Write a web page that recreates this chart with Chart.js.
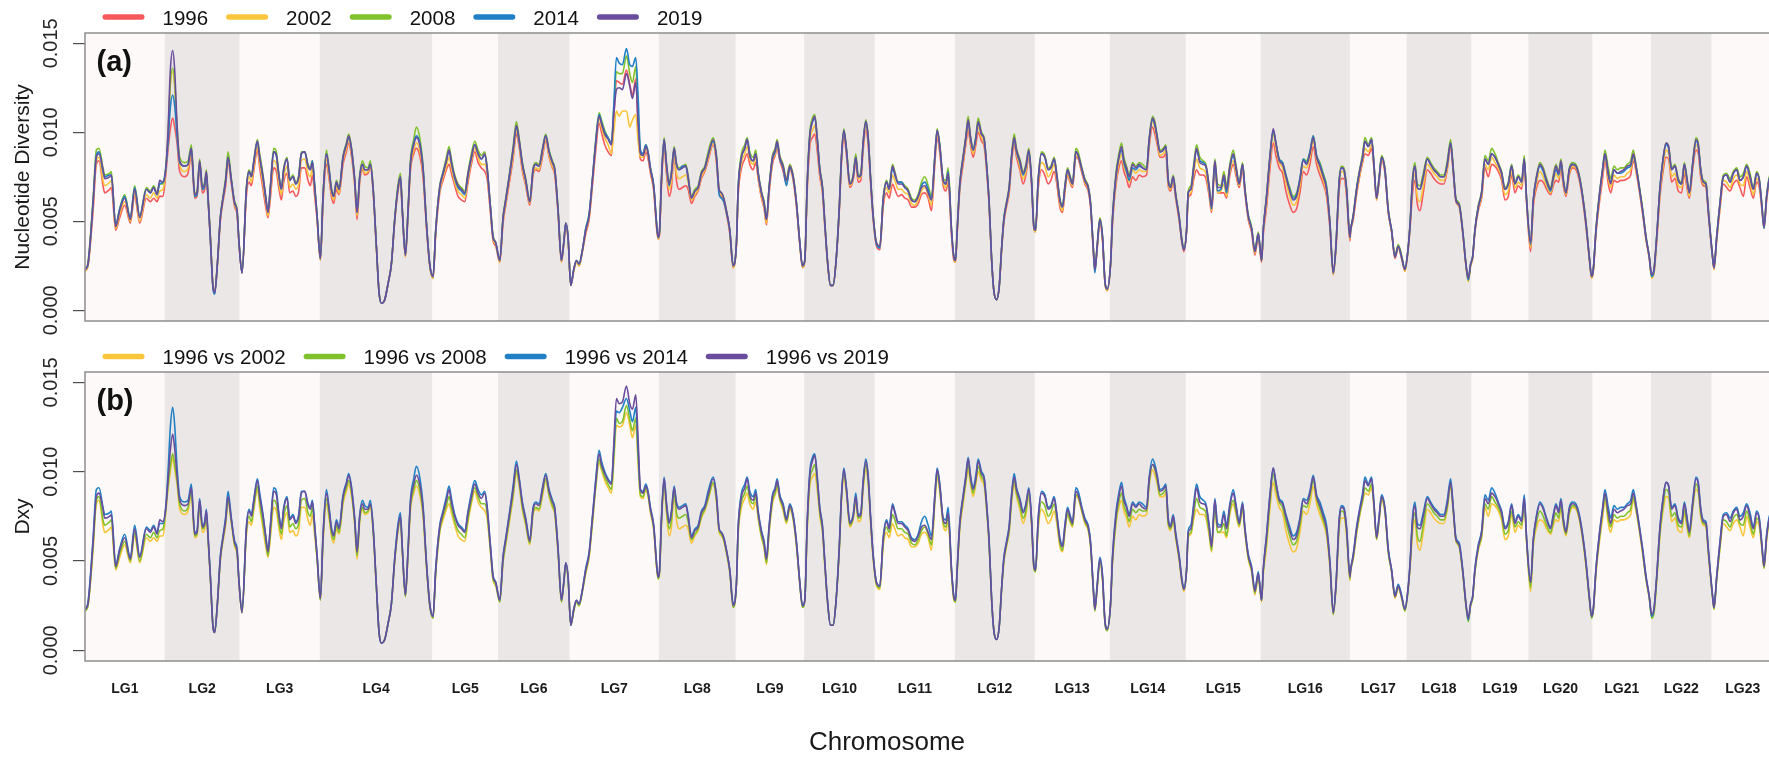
<!DOCTYPE html>
<html>
<head>
<meta charset="utf-8">
<title>Nucleotide diversity and Dxy along the genome</title>
<script src="https://cdn.jsdelivr.net/npm/chart.js@4.4.1/dist/chart.umd.min.js"></script>
<style>
  html, body { margin: 0; padding: 0; background: #ffffff; overflow: hidden; }
  #wrap { position: relative; width: 1776px; height: 757px; }
  #wrap canvas { position: absolute; left: 0; }
  #chart-pi { top: 0; }
  #chart-dxy { top: 340px; }
</style>
</head>
<body>
<div id="wrap">
  <canvas id="chart-pi" width="1776" height="340"></canvas>
  <canvas id="chart-dxy" width="1776" height="417"></canvas>
</div>
<script>
// ============================================================================
// DATA  (values in units of 1e-4, positions in Mb from chromosome start)
// ============================================================================

const chromNames = ['LG1', 'LG2', 'LG3', 'LG4', 'LG5', 'LG6', 'LG7', 'LG8', 'LG9', 'LG10', 'LG11', 'LG12',
  'LG13', 'LG14', 'LG15', 'LG16', 'LG17', 'LG18', 'LG19', 'LG20', 'LG21', 'LG22', 'LG23'];

const chromLengths = [23.9, 22.5, 24.0, 33.8, 19.7, 21.5, 26.7, 23.1, 20.5, 21.2, 24.0, 24.0,
  22.5, 22.8, 22.4, 26.8, 17.0, 19.5, 17.0, 19.3, 17.5, 18.2, 18.7];

const yTicks = [0, 50, 100, 150];
const yTickLabels = ['0.000', '0.005', '0.010', '0.015'];

// window midpoints, one row per chromosome
const windowPos = [
  [0.1, 0.9, 2.4, 3.4, 4.2, 5.4, 5.9, 7.4, 7.9, 9.2, 10.4, 11.9, 13.6, 14.9, 16.4, 18.4, 19.6, 20.6, 21.6, 22.4, 23.4],
  [0.3, 1.0, 1.7, 2.4, 3.0, 3.7, 4.5, 6.0, 7.0, 8.0, 9.0, 9.7, 10.5, 11.3, 12.0, 12.5, 13.0, 13.7, 14.5, 15.0, 15.8, 16.7, 17.5, 18.3, 19.0, 20.0, 21.0, 21.7, 22.3],
  [0.7, 2.0, 2.8, 3.5, 4.2, 5.3, 6.0, 7.0, 7.8, 8.5, 9.2, 10.2, 11.0, 11.8, 12.5, 13.2, 14.2, 15.0, 16.0, 16.8, 17.7, 18.5, 19.5, 20.5, 21.2, 21.8, 22.5, 23.2],
  [0.2, 1.0, 2.0, 2.8, 3.5, 4.2, 5.0, 5.8, 7.0, 8.0, 8.7, 9.5, 10.5, 11.2, 12.0, 12.8, 13.5, 14.5, 15.2, 16.0, 17.0, 17.8, 18.5, 19.5, 20.5, 21.5, 22.5, 23.5, 24.2, 24.8, 25.7, 26.5, 27.2, 28.2, 29.0, 30.0, 31.0, 32.0, 33.0],
  [0.2, 1.0, 2.2, 3.2, 4.2, 5.0, 5.7, 6.7, 7.7, 8.7, 9.7, 10.7, 11.7, 12.7, 13.7, 14.7, 15.7, 16.4, 17.4, 18.2, 19.0],
  [0.5, 1.5, 2.3, 3.5, 4.5, 5.5, 6.3, 7.3, 8.3, 9.5, 10.5, 11.3, 12.3, 13.3, 14.3, 15.3, 16.3, 17.0, 18.0, 19.0, 19.7, 20.3, 21.0],
  [0.3, 1.2, 2.0, 2.8, 3.8, 4.8, 5.8, 6.8, 7.8, 8.8, 9.5, 10.5, 11.5, 12.5, 13.2, 14.0, 14.8, 15.8, 17.0, 18.0, 18.8, 19.8, 20.5, 21.2, 22.0, 22.8, 23.5, 24.2, 25.2, 26.0, 26.5],
  [0.2, 0.8, 1.6, 2.3, 3.1, 3.8, 4.6, 5.3, 6.1, 7.1, 8.1, 8.8, 9.8, 10.8, 11.8, 12.8, 13.8, 14.8, 16.3, 17.3, 18.1, 18.8, 19.5, 20.3, 21.3, 22.3],
  [0.2, 0.7, 1.7, 2.7, 3.4, 4.2, 5.2, 6.0, 6.7, 7.7, 8.5, 9.2, 10.0, 11.0, 11.8, 12.4, 13.2, 14.2, 15.2, 16.2, 17.2, 18.2, 19.2, 20.0],
  [0.2, 0.9, 1.7, 2.5, 3.2, 3.9, 4.7, 5.5, 6.2, 7.0, 7.9, 8.7, 9.5, 10.5, 11.2, 11.9, 12.7, 13.7, 14.7, 15.5, 16.2, 17.0, 17.7, 18.5, 19.2, 19.9, 20.7],
  [0.5, 1.5, 2.5, 3.5, 4.3, 5.3, 6.0, 7.0, 8.0, 9.0, 10.0, 11.0, 12.0, 13.0, 14.0, 15.0, 16.0, 17.0, 18.0, 18.7, 19.5, 20.5, 21.3, 22.0, 23.0, 23.7],
  [0.2, 0.7, 1.5, 2.5, 3.3, 4.0, 4.7, 5.5, 6.3, 7.0, 8.0, 8.8, 9.5, 10.3, 11.0, 11.7, 12.5, 13.3, 14.0, 14.7, 15.5, 16.3, 17.0, 17.8, 18.5, 19.5, 20.5, 21.3, 22.2, 23.0, 23.7],
  [0.2, 1.0, 2.0, 3.0, 4.0, 4.8, 5.8, 6.5, 7.5, 8.3, 9.0, 9.8, 10.5, 11.3, 12.3, 13.0, 14.0, 15.0, 16.0, 16.7, 17.5, 18.0, 18.7, 19.5, 20.3, 21.0, 21.7],
  [0.2, 0.8, 1.8, 2.7, 3.5, 4.2, 5.0, 5.8, 6.8, 7.8, 8.8, 9.8, 11.0, 11.8, 12.8, 13.5, 14.2, 15.0, 16.0, 16.8, 17.5, 18.2, 19.0, 19.8, 20.8, 21.6, 22.2],
  [0.2, 0.7, 1.5, 2.4, 3.2, 4.2, 5.2, 6.0, 7.0, 7.7, 8.7, 9.5, 10.5, 11.4, 12.2, 13.2, 14.2, 15.0, 16.0, 17.0, 17.7, 18.7, 19.7, 20.7, 21.7, 22.2],
  [0.3, 0.8, 1.8, 2.8, 3.8, 4.6, 5.6, 6.6, 7.6, 8.6, 9.8, 10.8, 11.8, 12.8, 13.8, 14.8, 15.8, 16.8, 17.8, 18.8, 19.8, 20.8, 21.8, 22.6, 23.6, 24.3, 25.0, 25.8, 26.8],
  [0.2, 1.0, 2.0, 3.0, 3.8, 4.5, 5.5, 6.5, 7.2, 8.0, 8.8, 9.5, 10.5, 11.5, 12.5, 13.5, 14.5, 15.5, 16.5],
  [0.3, 1.0, 1.8, 2.5, 3.2, 4.0, 5.0, 6.2, 7.2, 8.2, 9.2, 10.2, 11.2, 12.2, 13.2, 14.0, 14.8, 15.8, 16.8, 17.8, 18.5, 19.2],
  [0.3, 1.0, 2.0, 3.0, 4.0, 5.0, 6.0, 7.0, 8.0, 9.0, 10.0, 11.0, 12.0, 13.0, 14.0, 15.0, 15.8, 16.5],
  [0.7, 1.5, 2.5, 3.5, 4.5, 5.5, 6.7, 7.5, 8.3, 9.1, 9.8, 10.5, 11.3, 12.3, 13.3, 14.3, 15.3, 16.3, 17.3, 18.3, 19.0],
  [0.2, 1.0, 2.0, 3.0, 3.7, 4.7, 5.4, 6.4, 7.4, 8.4, 9.4, 10.4, 11.4, 12.2, 13.0, 14.0, 15.0, 16.0, 17.0],
  [0.2, 0.9, 1.7, 2.7, 3.7, 4.5, 5.3, 6.2, 7.2, 8.2, 9.2, 10.0, 10.7, 11.5, 12.5, 13.5, 14.2, 14.9, 15.7, 16.5, 17.2],
  [0.3, 0.7, 1.5, 2.5, 3.5, 4.5, 5.5, 6.5, 7.5, 8.5, 9.5, 10.5, 11.5, 12.5, 13.5, 14.3, 15.0, 15.7, 16.5, 17.5, 18.5]
];

// nucleotide diversity per sampling year
const pi1996 = [
  [22, 25, 55, 82, 84, 70, 66, 68, 69, 45, 52, 59, 49, 64, 49, 63, 61, 63, 61, 64, 64],
  [76, 90, 102, 108, 103, 94, 78, 75, 77, 87, 63, 64, 80, 66, 68, 75, 62, 40, 13, 10, 25, 50, 61, 70, 83, 71, 58, 54, 37],
  [21, 64, 72, 70, 78, 90, 80, 68, 58, 52, 63, 80, 78, 68, 62, 72, 77, 66, 67, 64, 67, 80, 80, 73, 70, 76, 64, 51],
  [28, 60, 82, 74, 64, 60, 68, 65, 82, 89, 94, 87, 70, 51, 72, 79, 76, 77, 80, 67, 35, 10, 4, 6, 15, 26, 50, 67, 72, 54, 30, 54, 78, 88, 91, 87, 75, 47, 25],
  [18, 43, 66, 73, 79, 82, 77, 70, 64, 62, 61, 72, 82, 89, 83, 80, 78, 74, 55, 39, 36],
  [27, 49, 59, 73, 85, 99, 92, 78, 70, 59, 76, 79, 78, 86, 95, 86, 80, 76, 54, 27, 37, 47, 40],
  [14, 22, 27, 25, 33, 43, 51, 70, 90, 105, 100, 93, 89, 87, 108, 129, 128, 127, 135, 127, 121, 130, 103, 85, 84, 89, 85, 77, 67, 47, 40],
  [42, 70, 92, 77, 64, 69, 88, 73, 68, 69, 70, 68, 60, 64, 67, 74, 78, 84, 93, 83, 66, 64, 61, 54, 43, 24],
  [37, 64, 80, 85, 88, 82, 79, 83, 74, 63, 57, 48, 66, 82, 87, 91, 84, 78, 71, 79, 73, 58, 37, 24],
  [28, 66, 92, 97, 99, 90, 75, 66, 47, 27, 14, 14, 26, 54, 83, 98, 87, 69, 73, 83, 72, 73, 90, 101, 93, 72, 51],
  [36, 34, 58, 66, 63, 71, 68, 64, 65, 63, 62, 58, 58, 60, 65, 66, 63, 56, 82, 97, 88, 70, 67, 72, 42, 28],
  [27, 43, 68, 82, 93, 101, 93, 86, 93, 100, 95, 92, 79, 58, 29, 11, 6, 13, 33, 49, 58, 66, 82, 93, 86, 79, 71, 76, 86, 71, 46],
  [44, 68, 79, 76, 71, 73, 78, 72, 58, 55, 66, 76, 72, 69, 86, 85, 78, 71, 67, 58, 34, 22, 35, 49, 39, 16, 11],
  [25, 49, 70, 80, 84, 78, 74, 69, 75, 73, 76, 75, 76, 92, 103, 99, 93, 86, 86, 88, 70, 67, 72, 62, 50, 38, 33],
  [44, 63, 65, 74, 79, 76, 76, 74, 64, 55, 80, 66, 66, 66, 63, 76, 82, 76, 69, 79, 66, 51, 44, 31, 41, 34],
  [27, 42, 58, 79, 94, 87, 80, 77, 67, 60, 55, 57, 66, 78, 76, 82, 92, 82, 76, 71, 64, 46, 20, 34, 68, 74, 74, 64, 39],
  [44, 51, 65, 76, 83, 88, 87, 91, 80, 62, 73, 84, 77, 55, 44, 29, 35, 29, 22],
  [31, 45, 66, 73, 60, 56, 66, 79, 77, 74, 72, 71, 71, 79, 92, 77, 61, 58, 44, 25, 17, 25],
  [29, 44, 56, 63, 80, 75, 82, 81, 78, 73, 62, 64, 76, 66, 70, 68, 82, 60],
  [33, 58, 69, 73, 72, 68, 65, 70, 73, 72, 80, 70, 64, 76, 80, 79, 73, 62, 47, 29, 18],
  [22, 43, 60, 74, 84, 71, 66, 73, 72, 73, 73, 74, 76, 84, 78, 67, 54, 40, 29],
  [19, 21, 38, 64, 79, 86, 85, 72, 74, 67, 66, 77, 70, 63, 79, 90, 88, 75, 70, 69, 54],
  [29, 23, 39, 57, 71, 69, 67, 71, 73, 69, 64, 75, 69, 63, 72, 69, 58, 46, 62, 73, 74]
];

const pi2002 = [
  [22, 25, 58, 84, 86, 73, 70, 72, 73, 46, 54, 61, 50, 66, 50, 65, 63, 66, 63, 67, 68],
  [78, 97, 126, 134, 125, 100, 82, 78, 80, 89, 64, 65, 82, 68, 70, 76, 63, 41, 13, 10, 26, 51, 62, 72, 84, 72, 59, 55, 38],
  [21, 66, 75, 72, 80, 92, 83, 71, 61, 53, 66, 84, 82, 71, 65, 75, 81, 69, 71, 68, 71, 84, 85, 77, 75, 80, 67, 52],
  [28, 62, 85, 76, 66, 62, 70, 66, 84, 91, 96, 89, 71, 53, 73, 80, 77, 78, 81, 68, 35, 10, 4, 6, 15, 26, 50, 68, 73, 55, 30, 55, 80, 90, 94, 90, 77, 48, 25],
  [18, 44, 67, 75, 81, 86, 80, 72, 67, 65, 63, 74, 84, 91, 86, 82, 82, 77, 56, 40, 37],
  [27, 50, 60, 75, 87, 101, 94, 80, 71, 60, 77, 80, 79, 88, 96, 87, 81, 77, 55, 27, 37, 48, 40],
  [14, 22, 27, 25, 33, 44, 52, 72, 93, 108, 103, 97, 93, 88, 100, 112, 109, 112, 112, 103, 107, 110, 95, 86, 86, 91, 87, 78, 68, 48, 40],
  [43, 71, 94, 79, 68, 73, 89, 77, 74, 75, 76, 72, 62, 65, 68, 75, 79, 85, 94, 84, 67, 65, 62, 55, 44, 24],
  [37, 66, 83, 88, 92, 85, 82, 86, 75, 64, 58, 49, 67, 84, 88, 93, 85, 80, 72, 80, 74, 59, 37, 24],
  [28, 68, 95, 101, 104, 94, 77, 67, 48, 27, 14, 14, 26, 55, 85, 100, 89, 70, 74, 85, 74, 75, 92, 104, 95, 74, 52],
  [37, 35, 60, 69, 66, 76, 73, 68, 68, 66, 65, 60, 59, 62, 67, 69, 65, 59, 84, 99, 90, 72, 69, 75, 44, 29],
  [27, 44, 70, 84, 95, 104, 95, 88, 95, 103, 97, 94, 80, 59, 29, 11, 6, 13, 33, 50, 59, 67, 84, 95, 88, 81, 74, 78, 88, 72, 46],
  [44, 70, 83, 81, 75, 77, 82, 75, 60, 56, 67, 77, 73, 70, 87, 86, 79, 72, 68, 59, 35, 22, 35, 50, 40, 16, 11],
  [26, 50, 72, 83, 88, 81, 77, 72, 79, 77, 79, 78, 78, 94, 106, 102, 95, 87, 88, 90, 71, 68, 73, 63, 51, 39, 34],
  [45, 64, 66, 77, 85, 80, 79, 77, 66, 56, 82, 66, 67, 71, 64, 78, 84, 78, 70, 80, 67, 52, 45, 32, 42, 35],
  [28, 44, 61, 83, 99, 91, 83, 80, 72, 65, 59, 61, 70, 81, 80, 86, 95, 85, 79, 73, 66, 48, 20, 35, 71, 78, 77, 66, 40],
  [44, 52, 66, 77, 84, 91, 89, 93, 81, 62, 74, 85, 78, 55, 44, 30, 35, 30, 22],
  [31, 46, 70, 77, 64, 61, 70, 82, 80, 77, 75, 73, 73, 80, 93, 78, 62, 58, 44, 25, 16, 25],
  [29, 44, 57, 64, 82, 79, 86, 83, 80, 75, 65, 67, 78, 69, 72, 70, 83, 61],
  [35, 60, 72, 78, 75, 70, 66, 72, 77, 74, 82, 71, 65, 77, 81, 80, 74, 63, 48, 29, 18],
  [22, 44, 62, 77, 86, 74, 69, 76, 74, 75, 75, 77, 79, 86, 79, 68, 55, 40, 29],
  [18, 21, 39, 66, 82, 90, 88, 75, 77, 70, 69, 79, 72, 64, 80, 93, 90, 77, 71, 70, 55],
  [29, 23, 40, 58, 73, 72, 69, 74, 76, 71, 70, 78, 72, 65, 74, 71, 59, 46, 63, 74, 75]
];

const pi2008 = [
  [23, 27, 62, 90, 91, 80, 76, 77, 78, 48, 57, 65, 52, 70, 53, 69, 67, 70, 66, 71, 71],
  [80, 98, 128, 136, 128, 103, 86, 83, 84, 93, 66, 67, 85, 70, 72, 79, 65, 42, 13, 10, 26, 53, 64, 75, 89, 74, 61, 57, 38],
  [22, 69, 79, 76, 84, 96, 88, 76, 64, 56, 70, 91, 89, 76, 69, 80, 86, 74, 76, 72, 76, 89, 89, 82, 80, 84, 70, 54],
  [29, 65, 90, 80, 69, 65, 73, 69, 87, 94, 99, 92, 74, 56, 76, 84, 81, 80, 84, 70, 36, 10, 4, 6, 15, 26, 52, 71, 77, 57, 31, 57, 84, 96, 103, 97, 81, 50, 26],
  [19, 46, 70, 78, 86, 92, 85, 76, 71, 69, 67, 78, 88, 95, 90, 87, 89, 81, 59, 42, 38],
  [28, 53, 63, 78, 92, 106, 97, 83, 74, 62, 80, 83, 82, 91, 99, 90, 84, 80, 57, 28, 38, 49, 41],
  [14, 23, 28, 26, 34, 46, 54, 74, 96, 111, 107, 101, 97, 94, 113, 134, 133, 133, 143, 133, 128, 137, 112, 89, 88, 93, 89, 80, 70, 50, 41],
  [44, 74, 97, 83, 72, 78, 92, 83, 80, 81, 82, 76, 64, 68, 70, 78, 81, 89, 97, 87, 68, 66, 63, 56, 45, 26],
  [38, 69, 88, 93, 97, 89, 86, 90, 78, 67, 61, 52, 70, 87, 91, 96, 87, 82, 74, 82, 76, 61, 38, 25],
  [28, 71, 100, 108, 110, 98, 80, 70, 50, 28, 14, 14, 26, 57, 87, 102, 91, 72, 76, 88, 76, 77, 95, 107, 98, 76, 54],
  [38, 36, 63, 73, 69, 82, 78, 72, 72, 70, 68, 63, 62, 65, 72, 75, 70, 64, 87, 102, 93, 74, 73, 80, 46, 30],
  [28, 46, 72, 87, 98, 109, 98, 91, 98, 108, 100, 97, 83, 61, 30, 11, 6, 13, 34, 52, 61, 70, 87, 99, 91, 85, 78, 82, 91, 74, 48],
  [45, 74, 89, 87, 80, 81, 86, 78, 63, 59, 70, 80, 76, 72, 91, 89, 81, 74, 70, 61, 36, 23, 37, 52, 42, 17, 12],
  [26, 53, 77, 88, 94, 86, 81, 76, 83, 81, 83, 82, 80, 97, 109, 106, 98, 90, 91, 93, 74, 70, 76, 65, 53, 40, 35],
  [45, 67, 70, 83, 93, 86, 84, 82, 70, 59, 85, 71, 70, 78, 70, 82, 90, 82, 72, 83, 69, 54, 47, 34, 44, 36],
  [28, 45, 65, 87, 100, 94, 85, 83, 76, 70, 64, 66, 74, 85, 84, 89, 98, 87, 83, 77, 70, 50, 21, 36, 74, 81, 80, 69, 42],
  [45, 54, 69, 80, 88, 97, 93, 97, 83, 64, 76, 87, 80, 57, 45, 31, 37, 31, 23],
  [32, 48, 75, 83, 71, 70, 77, 86, 83, 80, 78, 76, 76, 84, 96, 80, 63, 60, 46, 26, 17, 26],
  [30, 46, 59, 67, 87, 84, 91, 88, 83, 78, 69, 72, 82, 72, 76, 73, 87, 63],
  [38, 62, 76, 83, 80, 74, 69, 76, 82, 78, 85, 74, 67, 80, 83, 82, 76, 65, 50, 30, 19],
  [23, 46, 65, 80, 90, 80, 74, 81, 79, 80, 80, 82, 84, 90, 82, 70, 57, 42, 30],
  [19, 23, 41, 69, 86, 94, 92, 80, 82, 74, 72, 83, 76, 67, 83, 97, 94, 80, 73, 72, 57],
  [30, 24, 41, 61, 76, 77, 74, 78, 80, 75, 77, 82, 77, 69, 78, 74, 61, 48, 65, 76, 77]
];

const pi2014 = [
  [23, 26, 60, 87, 89, 78, 75, 76, 76, 48, 57, 64, 52, 69, 53, 68, 66, 69, 65, 71, 72],
  [79, 94, 114, 121, 115, 98, 83, 81, 82, 91, 64, 65, 83, 68, 70, 77, 63, 40, 12, 9, 26, 52, 63, 73, 86, 73, 60, 56, 38],
  [21, 68, 78, 75, 83, 95, 86, 74, 63, 55, 69, 89, 87, 75, 68, 79, 85, 73, 75, 71, 75, 88, 89, 81, 79, 84, 70, 54],
  [29, 64, 88, 79, 68, 64, 72, 68, 86, 93, 97, 91, 73, 55, 75, 82, 79, 79, 82, 69, 36, 10, 4, 6, 15, 26, 51, 69, 75, 55, 31, 56, 82, 94, 98, 94, 80, 49, 26],
  [19, 45, 69, 77, 84, 90, 83, 74, 69, 67, 65, 76, 86, 93, 88, 85, 87, 80, 58, 41, 38],
  [28, 52, 62, 77, 90, 103, 95, 82, 73, 61, 79, 82, 81, 90, 98, 89, 83, 79, 56, 28, 38, 49, 41],
  [14, 23, 28, 26, 34, 46, 54, 74, 95, 110, 106, 100, 97, 94, 115, 142, 139, 138, 147, 138, 137, 142, 120, 90, 88, 93, 89, 80, 70, 50, 41],
  [44, 73, 96, 82, 70, 77, 91, 82, 79, 81, 81, 74, 63, 67, 69, 77, 80, 87, 95, 86, 65, 63, 61, 55, 45, 25],
  [38, 68, 86, 91, 96, 87, 84, 88, 77, 66, 60, 51, 69, 85, 89, 94, 85, 80, 70, 80, 75, 60, 38, 25],
  [28, 70, 98, 106, 108, 97, 79, 69, 49, 28, 14, 14, 26, 56, 86, 101, 90, 71, 75, 86, 75, 76, 94, 106, 97, 75, 53],
  [37, 35, 62, 72, 68, 80, 76, 72, 72, 69, 67, 62, 61, 64, 70, 72, 68, 62, 86, 101, 92, 73, 71, 78, 45, 30],
  [28, 45, 71, 86, 97, 106, 97, 90, 97, 105, 99, 96, 82, 60, 30, 11, 6, 13, 34, 51, 60, 69, 86, 96, 89, 83, 76, 80, 89, 73, 47],
  [45, 73, 88, 86, 79, 80, 85, 77, 62, 58, 69, 79, 75, 71, 89, 87, 80, 73, 69, 60, 36, 21, 36, 51, 41, 17, 12],
  [26, 52, 75, 86, 90, 83, 78, 73, 80, 79, 81, 80, 79, 96, 107, 104, 97, 89, 90, 92, 73, 69, 75, 64, 52, 39, 34],
  [45, 66, 68, 81, 90, 84, 83, 81, 68, 57, 83, 67, 68, 74, 66, 80, 87, 80, 71, 82, 68, 53, 46, 33, 43, 36],
  [28, 45, 64, 86, 101, 94, 85, 83, 76, 69, 63, 65, 74, 85, 83, 89, 98, 87, 82, 76, 69, 49, 21, 36, 73, 80, 79, 68, 41],
  [45, 53, 68, 79, 86, 95, 92, 96, 82, 63, 75, 86, 79, 56, 45, 30, 36, 30, 23],
  [32, 47, 73, 81, 69, 68, 75, 85, 82, 79, 77, 75, 75, 82, 94, 79, 62, 59, 45, 26, 17, 26],
  [30, 45, 58, 66, 85, 82, 88, 86, 82, 77, 68, 71, 81, 71, 75, 72, 85, 62],
  [37, 62, 75, 81, 78, 72, 67, 74, 79, 76, 83, 73, 66, 79, 82, 81, 75, 64, 49, 30, 19],
  [23, 45, 64, 79, 88, 76, 72, 79, 77, 77, 78, 80, 81, 87, 81, 69, 56, 41, 30],
  [19, 22, 41, 69, 86, 93, 91, 79, 81, 73, 71, 82, 75, 66, 82, 95, 92, 79, 72, 71, 56],
  [29, 24, 41, 60, 75, 76, 72, 77, 79, 73, 75, 81, 75, 68, 77, 73, 60, 46, 64, 75, 76]
];

const pi2019 = [
  [23, 26, 60, 86, 88, 79, 74, 75, 76, 47, 56, 63, 51, 68, 52, 68, 66, 69, 65, 73, 72],
  [79, 101, 135, 146, 135, 105, 84, 81, 82, 91, 65, 66, 84, 69, 71, 78, 64, 41, 13, 10, 26, 52, 63, 73, 86, 73, 60, 56, 38],
  [21, 68, 78, 75, 83, 95, 86, 75, 64, 55, 69, 89, 87, 75, 68, 79, 85, 73, 75, 71, 75, 88, 89, 81, 79, 83, 69, 53],
  [29, 64, 88, 79, 68, 64, 72, 68, 86, 93, 98, 91, 73, 55, 75, 82, 79, 79, 82, 69, 36, 10, 4, 6, 15, 26, 51, 69, 75, 56, 31, 56, 82, 93, 97, 93, 79, 49, 26],
  [19, 45, 69, 77, 84, 90, 83, 75, 70, 68, 66, 77, 86, 93, 88, 85, 88, 80, 58, 41, 38],
  [28, 52, 62, 77, 90, 104, 96, 82, 73, 61, 79, 82, 81, 90, 98, 89, 83, 79, 56, 28, 38, 49, 41],
  [14, 23, 28, 26, 34, 45, 53, 73, 94, 109, 105, 99, 96, 93, 110, 124, 125, 124, 133, 126, 119, 128, 105, 88, 87, 92, 88, 79, 69, 49, 41],
  [44, 73, 96, 82, 71, 77, 91, 82, 79, 80, 81, 75, 63, 67, 69, 77, 80, 87, 96, 86, 68, 66, 63, 56, 45, 25],
  [38, 68, 86, 91, 96, 87, 84, 88, 77, 66, 60, 51, 69, 86, 90, 95, 86, 81, 73, 81, 75, 60, 38, 25],
  [28, 70, 98, 106, 109, 97, 79, 69, 49, 28, 14, 14, 26, 56, 86, 101, 90, 71, 75, 86, 75, 76, 94, 106, 97, 75, 53],
  [38, 36, 62, 72, 68, 81, 77, 71, 71, 69, 67, 62, 61, 64, 69, 70, 66, 62, 86, 101, 92, 73, 71, 77, 45, 30],
  [28, 45, 71, 86, 97, 107, 97, 90, 96, 106, 99, 96, 82, 60, 30, 11, 6, 13, 34, 51, 60, 69, 86, 97, 90, 84, 77, 81, 90, 73, 47],
  [45, 73, 88, 86, 79, 80, 85, 77, 62, 58, 69, 79, 75, 71, 89, 87, 80, 73, 69, 60, 36, 23, 36, 51, 41, 17, 12],
  [26, 52, 75, 86, 92, 84, 80, 75, 82, 80, 82, 80, 79, 96, 108, 105, 97, 89, 90, 92, 73, 69, 75, 64, 52, 39, 34],
  [45, 66, 68, 81, 91, 83, 82, 81, 69, 58, 84, 69, 69, 76, 68, 81, 88, 81, 71, 82, 68, 53, 46, 33, 43, 36],
  [28, 45, 64, 86, 102, 94, 84, 82, 75, 68, 62, 64, 73, 84, 82, 88, 97, 86, 81, 75, 68, 49, 21, 36, 73, 80, 79, 68, 41],
  [45, 53, 68, 79, 86, 95, 92, 96, 82, 63, 75, 86, 79, 56, 45, 30, 36, 30, 23],
  [32, 47, 73, 81, 69, 68, 75, 85, 82, 79, 77, 75, 75, 82, 94, 79, 62, 59, 45, 26, 18, 26],
  [30, 45, 58, 66, 85, 82, 88, 86, 82, 77, 68, 71, 81, 71, 75, 72, 85, 62],
  [38, 62, 75, 82, 79, 73, 68, 75, 81, 77, 84, 73, 66, 79, 82, 81, 75, 64, 49, 30, 19],
  [23, 45, 64, 79, 88, 77, 71, 79, 77, 78, 79, 81, 82, 88, 81, 69, 56, 41, 30],
  [20, 23, 41, 69, 86, 94, 92, 79, 81, 73, 71, 82, 75, 66, 82, 96, 93, 79, 72, 71, 56],
  [30, 24, 41, 60, 75, 76, 72, 77, 79, 73, 75, 81, 75, 68, 77, 73, 60, 47, 64, 75, 76]
];

// absolute divergence between 1996 and each later sample
const dxy2002 = [
  [22, 25, 55, 82, 84, 70, 66, 68, 69, 45, 52, 59, 49, 64, 49, 63, 61, 63, 61, 64, 64],
  [76, 90, 100, 108, 101, 93, 79, 76, 78, 87, 63, 64, 80, 66, 68, 75, 62, 40, 13, 10, 25, 50, 61, 70, 83, 71, 58, 54, 37],
  [21, 64, 72, 70, 78, 90, 80, 68, 58, 52, 63, 80, 78, 68, 62, 72, 77, 66, 67, 64, 67, 80, 80, 73, 70, 76, 64, 51],
  [28, 60, 82, 74, 64, 60, 68, 65, 82, 89, 93, 87, 70, 51, 72, 79, 76, 77, 80, 67, 35, 10, 4, 6, 15, 26, 50, 67, 72, 54, 30, 54, 78, 88, 92, 87, 75, 47, 25],
  [18, 43, 66, 73, 79, 82, 77, 70, 64, 62, 61, 72, 82, 89, 83, 80, 78, 74, 55, 39, 36],
  [27, 49, 59, 73, 85, 99, 92, 78, 70, 59, 76, 79, 78, 86, 95, 86, 80, 76, 54, 27, 37, 47, 40],
  [14, 22, 27, 25, 33, 43, 52, 71, 91, 105, 101, 95, 91, 88, 105, 126, 125, 126, 133, 126, 119, 126, 104, 86, 85, 90, 86, 77, 67, 47, 40],
  [42, 70, 92, 77, 64, 69, 88, 73, 68, 69, 70, 68, 60, 64, 67, 74, 78, 84, 93, 83, 66, 64, 61, 54, 43, 24],
  [37, 64, 80, 85, 88, 82, 79, 83, 74, 63, 57, 48, 66, 82, 87, 91, 84, 78, 71, 79, 73, 58, 37, 24],
  [28, 66, 92, 97, 99, 90, 75, 66, 47, 27, 14, 14, 26, 54, 83, 98, 87, 69, 73, 83, 72, 73, 90, 101, 93, 72, 51],
  [36, 34, 58, 66, 63, 71, 68, 64, 65, 63, 62, 58, 58, 60, 65, 66, 63, 56, 82, 97, 88, 70, 67, 72, 42, 28],
  [27, 43, 68, 82, 93, 101, 93, 86, 93, 100, 95, 92, 79, 58, 29, 11, 6, 13, 33, 49, 58, 66, 82, 93, 86, 79, 71, 76, 86, 71, 46],
  [44, 68, 79, 76, 71, 73, 78, 72, 58, 55, 66, 76, 72, 69, 86, 85, 78, 71, 67, 58, 34, 22, 35, 49, 39, 16, 11],
  [25, 49, 70, 80, 84, 78, 74, 69, 75, 73, 76, 75, 76, 92, 101, 98, 93, 86, 86, 88, 70, 67, 72, 62, 50, 38, 33],
  [44, 63, 65, 74, 79, 76, 76, 74, 64, 55, 80, 66, 66, 66, 63, 76, 82, 76, 69, 79, 66, 51, 44, 31, 41, 34],
  [27, 42, 58, 79, 94, 87, 80, 77, 67, 60, 55, 57, 66, 78, 76, 82, 92, 82, 76, 71, 64, 46, 20, 34, 68, 74, 74, 64, 39],
  [44, 51, 65, 76, 83, 88, 87, 91, 80, 62, 73, 84, 77, 55, 44, 29, 35, 29, 22],
  [31, 45, 66, 73, 60, 56, 66, 79, 77, 74, 72, 71, 71, 79, 92, 77, 61, 58, 44, 25, 17, 25],
  [29, 44, 56, 63, 80, 75, 82, 81, 78, 73, 62, 64, 76, 66, 70, 68, 82, 60],
  [33, 58, 69, 73, 72, 68, 65, 70, 73, 72, 80, 70, 64, 76, 80, 79, 73, 62, 47, 29, 18],
  [22, 43, 60, 74, 84, 71, 66, 73, 72, 73, 73, 74, 76, 84, 78, 67, 54, 40, 29],
  [19, 21, 38, 64, 79, 86, 85, 72, 74, 67, 66, 77, 70, 63, 79, 90, 88, 75, 70, 69, 54],
  [29, 23, 39, 57, 71, 69, 67, 71, 73, 69, 64, 75, 69, 63, 72, 69, 58, 46, 62, 73, 74]
];

const dxy2008 = [
  [22, 25, 58, 84, 86, 73, 70, 72, 73, 46, 54, 61, 50, 66, 50, 65, 63, 66, 63, 67, 68],
  [78, 92, 103, 110, 104, 95, 82, 78, 80, 89, 64, 65, 82, 68, 70, 76, 63, 41, 13, 10, 26, 51, 62, 72, 84, 72, 59, 55, 38],
  [21, 66, 75, 72, 80, 92, 83, 71, 61, 53, 66, 84, 82, 71, 65, 75, 81, 69, 71, 68, 71, 84, 85, 77, 75, 80, 67, 52],
  [28, 62, 85, 76, 66, 62, 70, 66, 84, 91, 95, 89, 71, 53, 73, 80, 77, 78, 81, 68, 35, 10, 4, 6, 15, 26, 50, 68, 73, 55, 30, 55, 80, 90, 95, 90, 77, 48, 25],
  [18, 44, 67, 75, 81, 86, 80, 72, 67, 65, 63, 74, 84, 91, 86, 82, 82, 77, 56, 40, 37],
  [27, 50, 60, 75, 87, 101, 94, 80, 71, 60, 77, 80, 79, 88, 96, 87, 81, 77, 55, 27, 37, 48, 40],
  [14, 22, 27, 25, 33, 44, 53, 72, 92, 107, 102, 97, 93, 90, 108, 130, 127, 128, 137, 129, 123, 130, 108, 87, 86, 91, 87, 78, 68, 48, 40],
  [43, 71, 94, 79, 68, 73, 89, 77, 74, 75, 76, 72, 62, 65, 68, 75, 79, 85, 94, 84, 67, 65, 62, 55, 44, 24],
  [37, 66, 83, 88, 92, 85, 82, 86, 75, 64, 58, 49, 67, 84, 88, 93, 85, 80, 72, 80, 74, 59, 37, 24],
  [28, 68, 95, 101, 104, 94, 77, 67, 48, 27, 14, 14, 26, 55, 85, 100, 89, 70, 74, 85, 74, 75, 92, 104, 95, 74, 52],
  [37, 35, 60, 69, 66, 76, 73, 68, 68, 66, 65, 60, 59, 62, 67, 69, 65, 59, 84, 99, 90, 72, 69, 75, 44, 29],
  [27, 44, 70, 84, 95, 104, 95, 88, 95, 103, 97, 94, 80, 59, 29, 11, 6, 13, 33, 50, 59, 67, 84, 95, 88, 81, 74, 78, 88, 72, 46],
  [44, 70, 83, 81, 75, 77, 82, 75, 60, 56, 67, 77, 73, 70, 87, 86, 79, 72, 68, 59, 35, 22, 35, 50, 40, 16, 11],
  [26, 50, 72, 83, 88, 81, 77, 72, 79, 77, 79, 78, 78, 94, 104, 101, 95, 87, 88, 90, 71, 68, 73, 63, 51, 39, 34],
  [45, 64, 66, 77, 85, 80, 79, 77, 66, 56, 82, 66, 67, 71, 64, 78, 84, 78, 70, 80, 67, 52, 45, 32, 42, 35],
  [28, 44, 61, 83, 99, 91, 83, 80, 72, 65, 59, 61, 70, 81, 80, 86, 95, 85, 79, 73, 66, 48, 20, 35, 71, 78, 77, 66, 40],
  [44, 52, 66, 77, 84, 91, 89, 93, 81, 62, 74, 85, 78, 55, 44, 30, 35, 30, 22],
  [31, 46, 70, 77, 64, 61, 70, 82, 80, 77, 75, 73, 73, 80, 93, 78, 62, 58, 44, 25, 16, 25],
  [29, 44, 57, 64, 82, 79, 86, 83, 80, 75, 65, 67, 78, 69, 72, 70, 83, 61],
  [35, 60, 72, 78, 75, 70, 66, 72, 77, 74, 82, 71, 65, 77, 81, 80, 74, 63, 48, 29, 18],
  [22, 44, 62, 77, 86, 74, 69, 76, 74, 75, 75, 77, 79, 86, 79, 68, 55, 40, 29],
  [18, 21, 39, 66, 82, 90, 88, 75, 77, 70, 69, 79, 72, 64, 80, 93, 90, 77, 71, 70, 55],
  [29, 23, 40, 58, 73, 72, 69, 74, 76, 71, 70, 78, 72, 65, 74, 71, 59, 46, 63, 74, 75]
];

const dxy2014 = [
  [23, 27, 62, 90, 91, 80, 76, 77, 78, 48, 57, 65, 52, 70, 53, 69, 67, 70, 66, 71, 71],
  [80, 100, 125, 136, 126, 103, 86, 83, 84, 93, 66, 67, 85, 70, 72, 79, 65, 42, 13, 10, 26, 53, 64, 75, 89, 74, 61, 57, 38],
  [22, 69, 79, 76, 84, 96, 88, 76, 64, 56, 70, 91, 89, 76, 69, 80, 86, 74, 76, 72, 76, 89, 89, 82, 80, 84, 70, 54],
  [29, 65, 90, 80, 69, 65, 73, 69, 87, 94, 99, 92, 74, 56, 76, 84, 81, 80, 84, 70, 36, 10, 4, 6, 15, 26, 52, 71, 77, 57, 31, 57, 84, 96, 103, 97, 81, 50, 26],
  [19, 46, 70, 78, 86, 92, 85, 76, 71, 69, 67, 78, 88, 95, 90, 87, 89, 81, 59, 42, 38],
  [28, 53, 63, 78, 92, 106, 97, 83, 74, 62, 80, 83, 82, 91, 99, 90, 84, 80, 57, 28, 38, 49, 41],
  [14, 23, 28, 26, 34, 46, 55, 75, 96, 112, 106, 100, 96, 94, 112, 134, 133, 136, 141, 134, 128, 136, 112, 90, 89, 93, 89, 80, 70, 50, 41],
  [44, 74, 97, 83, 72, 78, 92, 83, 80, 81, 82, 76, 64, 68, 70, 78, 81, 89, 97, 87, 68, 66, 63, 56, 45, 26],
  [38, 69, 88, 93, 97, 89, 86, 90, 78, 67, 61, 52, 70, 87, 91, 96, 87, 82, 74, 82, 76, 61, 38, 25],
  [28, 71, 100, 108, 110, 98, 80, 70, 50, 28, 14, 14, 26, 57, 87, 102, 91, 72, 76, 88, 76, 77, 95, 107, 98, 76, 54],
  [38, 36, 63, 73, 69, 82, 78, 72, 72, 70, 68, 63, 62, 65, 72, 75, 70, 64, 87, 102, 93, 74, 73, 80, 46, 30],
  [28, 46, 72, 87, 98, 108, 98, 91, 98, 107, 100, 97, 83, 61, 30, 11, 6, 13, 34, 52, 61, 70, 87, 99, 91, 85, 78, 82, 91, 74, 48],
  [45, 74, 89, 87, 80, 81, 86, 78, 63, 59, 70, 80, 76, 72, 91, 89, 81, 74, 70, 61, 36, 23, 37, 52, 42, 17, 12],
  [26, 53, 77, 88, 94, 86, 81, 76, 83, 81, 83, 82, 80, 97, 107, 104, 98, 90, 91, 93, 74, 70, 76, 65, 53, 40, 35],
  [45, 67, 70, 83, 93, 86, 84, 82, 70, 59, 85, 71, 70, 78, 70, 82, 90, 82, 72, 83, 69, 54, 47, 34, 44, 36],
  [28, 45, 65, 87, 102, 94, 85, 83, 76, 70, 64, 66, 74, 85, 84, 89, 98, 87, 83, 77, 70, 50, 21, 36, 74, 81, 80, 69, 42],
  [45, 54, 69, 80, 88, 97, 93, 97, 83, 64, 76, 87, 80, 57, 45, 31, 37, 31, 23],
  [32, 48, 75, 83, 71, 70, 77, 86, 83, 80, 78, 76, 76, 84, 96, 80, 63, 60, 46, 26, 17, 26],
  [30, 46, 59, 67, 87, 84, 91, 88, 83, 78, 69, 72, 82, 72, 76, 73, 87, 63],
  [38, 62, 76, 83, 80, 74, 69, 76, 82, 78, 85, 74, 67, 80, 83, 82, 76, 65, 50, 30, 19],
  [23, 46, 65, 80, 90, 80, 74, 81, 79, 80, 80, 82, 84, 90, 82, 70, 57, 42, 30],
  [19, 23, 41, 69, 86, 94, 92, 80, 82, 74, 72, 83, 76, 67, 83, 97, 94, 80, 73, 72, 57],
  [30, 24, 41, 61, 76, 77, 74, 78, 80, 75, 77, 82, 77, 69, 78, 74, 61, 48, 65, 76, 77]
];

const dxy2019 = [
  [23, 26, 60, 86, 88, 79, 74, 75, 76, 47, 56, 63, 51, 68, 52, 68, 66, 69, 65, 73, 72],
  [79, 95, 112, 121, 113, 98, 84, 81, 82, 91, 65, 66, 84, 69, 71, 78, 64, 41, 13, 10, 26, 52, 63, 73, 86, 73, 60, 56, 38],
  [21, 68, 78, 75, 83, 95, 86, 75, 64, 55, 69, 89, 87, 75, 68, 79, 85, 73, 75, 71, 75, 88, 89, 81, 79, 83, 69, 53],
  [29, 64, 88, 79, 68, 64, 72, 68, 86, 93, 98, 91, 73, 55, 75, 82, 79, 79, 82, 69, 36, 10, 4, 6, 15, 26, 51, 69, 75, 56, 31, 56, 82, 93, 98, 93, 79, 49, 26],
  [19, 45, 69, 77, 84, 90, 83, 75, 70, 68, 66, 77, 86, 93, 88, 85, 88, 80, 58, 41, 38],
  [28, 52, 62, 77, 90, 104, 96, 82, 73, 61, 79, 82, 81, 90, 98, 89, 83, 79, 56, 28, 38, 49, 41],
  [14, 23, 28, 26, 34, 45, 54, 74, 94, 110, 104, 99, 95, 93, 115, 141, 138, 139, 148, 138, 135, 143, 118, 90, 88, 92, 88, 79, 69, 49, 41],
  [44, 73, 96, 82, 71, 77, 91, 82, 79, 80, 81, 75, 63, 67, 69, 77, 80, 87, 96, 86, 68, 66, 63, 56, 45, 25],
  [38, 68, 86, 91, 96, 87, 84, 88, 77, 66, 60, 51, 69, 86, 90, 95, 86, 81, 73, 81, 75, 60, 38, 25],
  [28, 70, 98, 106, 109, 97, 79, 69, 49, 28, 14, 14, 26, 56, 86, 101, 90, 71, 75, 86, 75, 76, 94, 106, 97, 75, 53],
  [38, 36, 62, 72, 68, 81, 77, 71, 71, 69, 67, 62, 61, 64, 69, 70, 66, 62, 86, 101, 92, 73, 71, 77, 45, 30],
  [28, 45, 71, 86, 97, 107, 97, 90, 96, 106, 99, 96, 82, 60, 30, 11, 6, 13, 34, 51, 60, 69, 86, 97, 90, 84, 77, 81, 90, 73, 47],
  [45, 73, 88, 86, 79, 80, 85, 77, 62, 58, 69, 79, 75, 71, 89, 87, 80, 73, 69, 60, 36, 23, 36, 51, 41, 17, 12],
  [26, 52, 75, 86, 92, 84, 80, 75, 82, 80, 82, 80, 79, 96, 104, 102, 97, 89, 90, 92, 73, 69, 75, 64, 52, 39, 34],
  [45, 66, 68, 81, 91, 83, 82, 81, 69, 58, 84, 69, 69, 76, 68, 81, 88, 81, 71, 82, 68, 53, 46, 33, 43, 36],
  [28, 45, 64, 86, 102, 94, 84, 82, 75, 68, 62, 64, 73, 84, 82, 88, 97, 86, 81, 75, 68, 49, 21, 36, 73, 80, 79, 68, 41],
  [45, 53, 68, 79, 86, 95, 92, 96, 82, 63, 75, 86, 79, 56, 45, 30, 36, 30, 23],
  [32, 47, 73, 81, 69, 68, 75, 85, 82, 79, 77, 75, 75, 82, 94, 79, 62, 59, 45, 26, 18, 26],
  [30, 45, 58, 66, 85, 82, 88, 86, 82, 77, 68, 71, 81, 71, 75, 72, 85, 62],
  [38, 62, 75, 82, 79, 73, 68, 75, 81, 77, 84, 73, 66, 79, 82, 81, 75, 64, 49, 30, 19],
  [23, 45, 64, 79, 88, 77, 71, 79, 77, 78, 79, 81, 82, 88, 81, 69, 56, 41, 30],
  [20, 23, 41, 69, 86, 94, 92, 79, 81, 73, 71, 82, 75, 66, 82, 96, 93, 79, 72, 71, 56],
  [30, 24, 41, 60, 75, 76, 72, 77, 79, 73, 75, 81, 75, 68, 77, 73, 60, 47, 64, 75, 76]
];

// ============================================================================
// STYLE
// ============================================================================

const FONT = '"Liberation Sans", Arial, Helvetica, sans-serif';
const COLORS = {
  y1996: '#f6585c',
  y2002: '#f9c53a',
  y2008: '#80c22c',
  y2014: '#1f80c6',
  y2019: '#6a4c9d'
};
const BAND_LIGHT = '#fdf9f8';
const BAND_DARK = '#ebe7e6';
const Y_MIN = -6;
const Y_MAX = 155.8;

// ============================================================================
// HELPERS
// ============================================================================

const chromStarts = [];
let genomeLength = 0;
chromLengths.forEach(len => { chromStarts.push(genomeLength); genomeLength += len; });

function toPoints(rows) {
  const pts = [];
  rows.forEach((row, c) => {
    const pos = windowPos[c];
    const n = Math.min(row.length, pos.length);
    for (let i = 0; i < n; i++) {
      pts.push({ x: chromStarts[c] + pos[i], y: row[i] });
    }
  });
  return pts;
}

function lineSet(label, color, rows, order) {
  return {
    label: label,
    data: toPoints(rows),
    borderColor: color,
    borderWidth: 1.6,
    pointRadius: 0,
    pointHoverRadius: 0,
    fill: false,
    cubicInterpolationMode: 'monotone',
    order: order
  };
}

// alternating shading behind each linkage group
const chromBands = {
  id: 'chromBands',
  beforeDatasetsDraw(chart) {
    const { ctx, chartArea: a, scales } = chart;
    ctx.save();
    chromStarts.forEach((start, i) => {
      const x0 = scales.x.getPixelForValue(start);
      const x1 = scales.x.getPixelForValue(start + chromLengths[i]);
      ctx.fillStyle = i % 2 ? BAND_DARK : BAND_LIGHT;
      ctx.fillRect(x0, a.top, x1 - x0, a.bottom - a.top);
    });
    ctx.restore();
  }
};

// box, rotated y labels, panel tag, axis titles
const panelFrame = {
  id: 'panelFrame',
  afterDraw(chart, args, opts) {
    const { ctx, chartArea: a, scales } = chart;
    ctx.save();

    ctx.strokeStyle = '#8f8f8f';
    ctx.lineWidth = 1.5;
    ctx.beginPath();
    ctx.moveTo(chart.width + 2, a.top);
    ctx.lineTo(a.left, a.top);
    ctx.lineTo(a.left, a.bottom);
    ctx.lineTo(chart.width + 2, a.bottom);
    ctx.stroke();

    ctx.fillStyle = '#262626';
    ctx.font = '20px ' + FONT;
    ctx.textAlign = 'center';
    ctx.textBaseline = 'alphabetic';
    yTicks.forEach((v, i) => {
      const y = scales.y.getPixelForValue(v);
      ctx.save();
      ctx.translate(a.left - 28, y);
      ctx.rotate(-Math.PI / 2);
      ctx.fillText(yTickLabels[i], 0, 0);
      ctx.restore();
    });

    ctx.fillStyle = '#1a1a1a';
    ctx.font = '21px ' + FONT;
    ctx.save();
    ctx.translate(a.left - 56, (a.top + a.bottom) / 2);
    ctx.rotate(-Math.PI / 2);
    ctx.fillText(opts.yTitle, 0, 0);
    ctx.restore();

    ctx.fillStyle = '#111111';
    ctx.font = 'bold 29px ' + FONT;
    ctx.textAlign = 'left';
    ctx.fillText(opts.tag, a.left + 11.5, a.top + 37.5);

    if (opts.xTitle) {
      ctx.fillStyle = '#1a1a1a';
      ctx.font = '26px ' + FONT;
      ctx.textAlign = 'center';
      ctx.fillText(opts.xTitle, 887, opts.xTitleY);
    }
    ctx.restore();
  }
};

// horizontal key above the panel: swatch, gap, label, gap, next swatch
const lineKey = {
  id: 'lineKey',
  afterDraw(chart, args, opts) {
    const { ctx, chartArea: a } = chart;
    const swatch = 42;
    const gap = 18;
    ctx.save();
    ctx.font = '20.5px ' + FONT;
    ctx.textAlign = 'left';
    ctx.textBaseline = 'alphabetic';
    let x = a.left + 17.5;
    chart.data.datasets.forEach(ds => {
      ctx.strokeStyle = ds.borderColor;
      ctx.lineWidth = 5.5;
      ctx.lineCap = 'round';
      ctx.beginPath();
      ctx.moveTo(x + 2.75, opts.y);
      ctx.lineTo(x + swatch - 2.75, opts.y);
      ctx.stroke();
      x += swatch + gap;
      ctx.fillStyle = '#111111';
      ctx.fillText(ds.label, x, opts.y + 7.5);
      x += ctx.measureText(ds.label).width + gap;
    });
    ctx.restore();
  }
};

function yScale() {
  return {
    type: 'linear',
    min: Y_MIN,
    max: Y_MAX,
    afterBuildTicks: s => { s.ticks = yTicks.map(v => ({ value: v })); },
    afterFit: s => { s.width = 85; },
    ticks: { display: false },
    grid: { drawOnChartArea: false, drawTicks: true, tickLength: 12, color: '#4d4d4d', lineWidth: 1.2 },
    border: { display: false }
  };
}

function baseOptions() {
  return {
    responsive: false,
    animation: false,
    events: [],
    plugins: { legend: { display: false }, tooltip: { enabled: false } }
  };
}

// ============================================================================
// PANEL (a): nucleotide diversity
// ============================================================================

const piOptions = baseOptions();
piOptions.layout = { padding: { top: 33, bottom: 19, left: 0, right: 2 } };
piOptions.scales = {
  x: { type: 'linear', min: 0, max: genomeLength, display: false },
  y: yScale()
};
piOptions.plugins.panelFrame = { tag: '(a)', yTitle: 'Nucleotide Diversity' };
piOptions.plugins.lineKey = { y: 17 };

new Chart(document.getElementById('chart-pi'), {
  type: 'line',
  data: {
    datasets: [
      lineSet('1996', COLORS.y1996, pi1996, 4),
      lineSet('2002', COLORS.y2002, pi2002, 3),
      lineSet('2008', COLORS.y2008, pi2008, 2),
      lineSet('2014', COLORS.y2014, pi2014, 1),
      lineSet('2019', COLORS.y2019, pi2019, 0)
    ]
  },
  options: piOptions,
  plugins: [chromBands, panelFrame, lineKey]
});

// ============================================================================
// PANEL (b): Dxy against the 1996 sample
// ============================================================================

const dxyOptions = baseOptions();
dxyOptions.layout = { padding: { top: 32, bottom: 0, left: 0, right: 2 } };
dxyOptions.scales = {
  x: {
    type: 'linear',
    min: 0,
    max: genomeLength,
    afterBuildTicks: s => { s.ticks = chromStarts.map((st, i) => ({ value: st + chromLengths[i] / 2 })); },
    afterFit: s => { s.height = 96; },
    ticks: {
      autoSkip: false,
      maxRotation: 0,
      minRotation: 0,
      padding: 12,
      color: '#1a1a1a',
      font: { family: FONT, size: 14, weight: 'bold' },
      callback: (v, i) => chromNames[i]
    },
    grid: { display: false },
    border: { display: false }
  },
  y: yScale()
};
dxyOptions.plugins.panelFrame = { tag: '(b)', yTitle: 'Dxy', xTitle: 'Chromosome', xTitleY: 410 };
dxyOptions.plugins.lineKey = { y: 16.5 };

new Chart(document.getElementById('chart-dxy'), {
  type: 'line',
  data: {
    datasets: [
      lineSet('1996 vs 2002', COLORS.y2002, dxy2002, 3),
      lineSet('1996 vs 2008', COLORS.y2008, dxy2008, 2),
      lineSet('1996 vs 2014', COLORS.y2014, dxy2014, 1),
      lineSet('1996 vs 2019', COLORS.y2019, dxy2019, 0)
    ]
  },
  options: dxyOptions,
  plugins: [chromBands, panelFrame, lineKey]
});
</script>
</body>
</html>
